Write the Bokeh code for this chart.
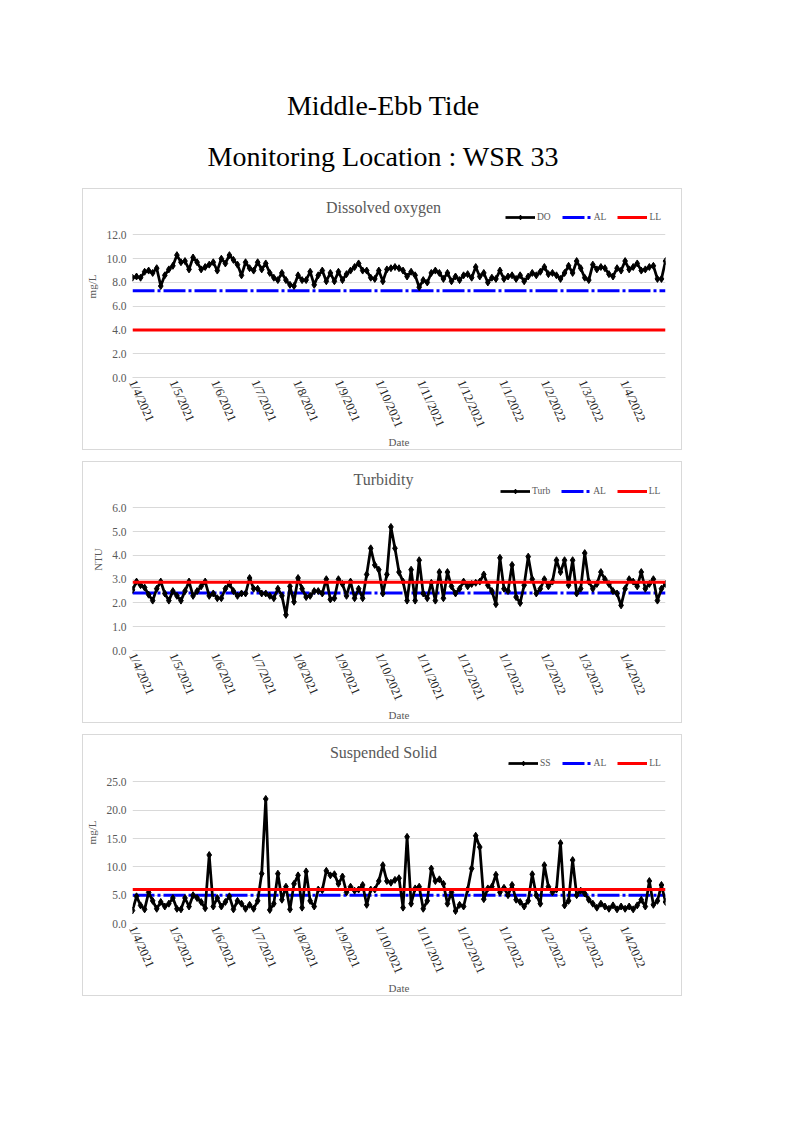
import pandas as pd
from bokeh.plotting import figure
from bokeh.models import (Range1d, FixedTicker, NumeralTickFormatter, Legend, LegendItem,
                          Label, Div, Spacer)
from bokeh.layouts import column, row
from bokeh.embed import file_html
from bokeh.resources import INLINE

# ---------------- data ----------------
dates = [
    "2021-04-01", "2021-04-04", "2021-04-07", "2021-04-10", "2021-04-13", "2021-04-16", "2021-04-19", "2021-04-22", "2021-04-25", "2021-04-28",
    "2021-05-01", "2021-05-04", "2021-05-07", "2021-05-10", "2021-05-13", "2021-05-16", "2021-05-19", "2021-05-22", "2021-05-25", "2021-05-28", "2021-05-31",
    "2021-06-03", "2021-06-06", "2021-06-09", "2021-06-12", "2021-06-15", "2021-06-18", "2021-06-21", "2021-06-24", "2021-06-27", "2021-06-30",
    "2021-07-03", "2021-07-06", "2021-07-09", "2021-07-12", "2021-07-15", "2021-07-18", "2021-07-21", "2021-07-24", "2021-07-27", "2021-07-30",
    "2021-08-02", "2021-08-05", "2021-08-08", "2021-08-11", "2021-08-14", "2021-08-17", "2021-08-20", "2021-08-23", "2021-08-26", "2021-08-29",
    "2021-09-01", "2021-09-04", "2021-09-07", "2021-09-10", "2021-09-13", "2021-09-16", "2021-09-19", "2021-09-22", "2021-09-25", "2021-09-28",
    "2021-10-01", "2021-10-04", "2021-10-07", "2021-10-10", "2021-10-13", "2021-10-16", "2021-10-19", "2021-10-22", "2021-10-25", "2021-10-28", "2021-10-31",
    "2021-11-03", "2021-11-06", "2021-11-09", "2021-11-12", "2021-11-15", "2021-11-18", "2021-11-21", "2021-11-24", "2021-11-27", "2021-11-30",
    "2021-12-03", "2021-12-06", "2021-12-09", "2021-12-12", "2021-12-15", "2021-12-18", "2021-12-21", "2021-12-24", "2021-12-27", "2021-12-30",
    "2022-01-02", "2022-01-05", "2022-01-08", "2022-01-11", "2022-01-14", "2022-01-17", "2022-01-20", "2022-01-23", "2022-01-26", "2022-01-29",
    "2022-02-01", "2022-02-04", "2022-02-07", "2022-02-10", "2022-02-13", "2022-02-16", "2022-02-19", "2022-02-22", "2022-02-25", "2022-02-28",
    "2022-03-03", "2022-03-06", "2022-03-09", "2022-03-12", "2022-03-15", "2022-03-18", "2022-03-21", "2022-03-24", "2022-03-27", "2022-03-30",
    "2022-04-02", "2022-04-05", "2022-04-08", "2022-04-11", "2022-04-14", "2022-04-17", "2022-04-20", "2022-04-23", "2022-04-26", "2022-04-29",
    "2022-05-02",
]

do_vals = [
    8.4, 8.5, 8.4, 8.9, 9.0, 8.8, 9.2, 7.7, 8.6, 9.1,
    9.4, 10.3, 9.7, 9.8, 9.1, 10.1, 9.7, 9.1, 9.3, 9.5,
    9.7, 9.0, 10.0, 9.6, 10.3, 9.9, 9.5, 8.6, 9.7, 9.2,
    9.0, 9.7, 9.1, 9.6, 8.8, 8.4, 8.2, 8.8, 8.2, 7.8,
    7.7, 8.6, 8.2, 8.2, 8.9, 7.8, 8.6, 9.0, 8.1, 8.8,
    8.1, 8.9, 8.2, 8.7, 9.0, 9.3, 9.6, 9.0, 9.0, 8.4,
    8.3, 9.0, 8.1, 9.1, 9.2, 9.3, 9.2, 9.0, 8.5, 8.9,
    8.6, 7.6, 8.2, 8.0, 8.8, 9.0, 8.8, 8.3, 8.8, 8.1,
    8.5, 8.2, 8.6, 8.7, 8.4, 9.3, 8.5, 8.8, 8.0, 8.4,
    8.3, 9.0, 8.3, 8.5, 8.6, 8.3, 8.6, 8.1, 8.5, 8.8,
    8.6, 8.9, 9.3, 8.7, 8.8, 8.6, 8.3, 8.8, 9.4, 8.8,
    9.8, 9.2, 8.4, 8.2, 9.5, 9.1, 9.3, 9.2, 8.7, 8.5,
    9.2, 9.0, 9.8, 9.1, 9.3, 9.6, 9.0, 9.1, 9.3, 9.4,
    8.3, 8.3, 9.8,
]

turb_vals = [
    2.55, 2.9, 2.75, 2.65, 2.35, 2.1, 2.6, 2.9, 2.4, 2.1,
    2.5, 2.3, 2.1, 2.5, 2.9, 2.3, 2.5, 2.7, 2.9, 2.3,
    2.4, 2.2, 2.2, 2.6, 2.8, 2.5, 2.3, 2.4, 2.4, 3.05,
    2.6, 2.6, 2.4, 2.4, 2.3, 2.2, 2.6, 2.3, 1.5, 2.7,
    2.05, 3.05, 2.6, 2.25, 2.3, 2.5, 2.5, 2.4, 3.0, 2.15,
    2.2, 3.0, 2.8, 2.3, 2.9, 2.2, 2.6, 2.2, 3.2, 4.3,
    3.6, 3.4, 2.4, 3.2, 5.2, 4.3, 3.3, 2.9, 2.1, 3.4,
    2.1, 3.8, 2.4, 2.2, 2.85, 2.1, 3.3, 2.2, 3.3, 2.7,
    2.4, 2.6, 2.9, 2.7, 2.8, 2.85, 2.9, 3.2, 2.75, 2.5,
    1.95, 3.9, 2.6, 2.5, 3.6, 2.25, 2.0, 2.75, 3.95, 3.0,
    2.4, 2.6, 3.0, 2.7, 2.9, 3.8, 3.3, 3.8, 2.75, 3.8,
    2.4, 2.6, 4.1, 2.9, 2.6, 2.8, 3.3, 3.0, 2.8, 2.5,
    2.4, 1.9, 2.6, 3.0, 2.9, 2.7, 3.3, 2.6, 2.8, 3.0,
    2.1, 2.6, 2.8,
]

ss_vals = [
    2.3, 4.8, 3.2, 2.5, 5.5, 4.0, 2.6, 3.8, 3.0, 3.5,
    4.5, 2.6, 2.5, 4.5, 3.0, 5.0, 4.5, 3.8, 2.7, 12.1,
    3.0, 4.5, 3.0, 3.8, 4.8, 2.5, 4.0, 3.5, 2.6, 3.3,
    2.6, 4.0, 8.8, 22.0, 2.4, 3.5, 8.8, 4.2, 6.5, 2.5,
    7.0, 8.5, 2.8, 9.2, 4.0, 3.0, 6.0, 5.9, 9.3, 8.5,
    8.7, 7.0, 8.3, 5.5, 6.5, 5.8, 6.0, 6.8, 3.3, 6.0,
    6.0, 7.5, 10.3, 7.5, 7.2, 7.7, 8.0, 2.8, 15.3, 3.5,
    6.2, 6.5, 2.6, 4.0, 9.7, 7.5, 7.8, 7.0, 3.5, 5.5,
    2.2, 3.3, 3.0, 6.0, 9.7, 15.5, 13.5, 4.3, 6.2, 6.5,
    8.6, 5.5, 6.3, 5.0, 6.8, 4.2, 3.8, 3.0, 4.0, 8.7,
    5.0, 3.5, 10.3, 6.5, 5.5, 6.0, 14.2, 3.2, 4.0, 11.2,
    5.0, 5.8, 5.3, 4.2, 3.5, 2.8, 3.5, 3.0, 2.6, 3.2,
    2.5, 3.0, 2.6, 3.0, 2.5, 3.2, 4.2, 3.0, 7.5, 3.3,
    4.0, 6.8, 3.8,
]

# action level (AL) and limit level (LL)
do_al, do_ll = 7.3, 4.0
turb_al, turb_ll = 2.42, 2.87
ss_al, ss_ll = 5.0, 6.0

tick_dates = ["2021-04-01", "2021-05-01", "2021-06-01", "2021-07-01", "2021-08-01", "2021-09-01",
              "2021-10-01", "2021-11-01", "2021-12-01", "2022-01-01", "2022-02-01", "2022-03-01",
              "2022-04-01"]
tick_labels = ["1/4/2021", "1/5/2021", "1/6/2021", "1/7/2021", "1/8/2021", "1/9/2021",
               "1/10/2021", "1/11/2021", "1/12/2021", "1/1/2022", "1/2/2022", "1/3/2022",
               "1/4/2022"]

page_title = "Middle-Ebb Tide"
page_subtitle = "Monitoring Location : WSR 33"

# ---------------- style ----------------
FONT = "Liberation Serif"
GRAY = "#595959"
GRID = "#d9d9d9"
FRAME_W = 531
FRAME_H = 180


def make_chart(title, ylabel, name, vals, al, ll, y_ticks, plot_px, bottom_b, leg_x, leg_y, title_dy):
    xs = pd.to_datetime(dates)
    extra_px = FRAME_H - plot_px          # room above the top gridline for title + legend
    y_top = y_ticks[-1] * (1 + extra_px / plot_px)
    p = figure(frame_width=FRAME_W, frame_height=FRAME_H, x_axis_type="datetime",
               x_range=Range1d(xs[0], xs[-1]), y_range=Range1d(y_ticks[0], y_top),
               min_border_left=49, min_border_right=18, min_border_top=6,
               min_border_bottom=bottom_b, output_backend="svg", toolbar_location=None)
    p.styles = {"border": "1px solid #d9d9d9"}
    p.outline_line_color = None
    p.background_fill_color = "white"
    p.border_fill_color = "white"

    # x axis
    tick_ms = [pd.Timestamp(d).value // 10**6 for d in tick_dates]
    xa = p.xaxis[0]
    xa.ticker = FixedTicker(ticks=tick_ms)
    xa.major_label_overrides = {float(t): lab for t, lab in zip(tick_ms, tick_labels)}
    xa.major_label_orientation = -1.15
    xa.major_tick_line_color = None
    xa.minor_tick_line_color = None
    xa.major_tick_out = 0
    xa.minor_tick_out = 0
    xa.axis_line_color = GRID
    xa.major_label_text_font = FONT
    xa.major_label_text_font_size = "12.5px"
    xa.major_label_text_color = "#262626"
    xa.major_label_standoff = 3
    xa.axis_label = "Date"
    xa.axis_label_text_font = FONT
    xa.axis_label_text_font_size = "11px"
    xa.axis_label_text_font_style = "normal"
    xa.axis_label_text_color = GRAY
    xa.axis_label_standoff = 1

    # y axis
    ya = p.yaxis[0]
    ya.ticker = FixedTicker(ticks=y_ticks)
    ya.formatter = NumeralTickFormatter(format="0.0")
    ya.major_tick_line_color = None
    ya.minor_tick_line_color = None
    ya.major_tick_out = 0
    ya.minor_tick_out = 0
    ya.axis_line_color = None
    ya.major_label_text_font = FONT
    ya.major_label_text_font_size = "11.5px"
    ya.major_label_text_color = GRAY
    ya.major_label_standoff = 6
    ya.axis_label = ylabel
    ya.axis_label_text_font = FONT
    ya.axis_label_text_font_size = "11px"
    ya.axis_label_text_font_style = "normal"
    ya.axis_label_text_color = GRAY
    ya.axis_label_standoff = 5

    p.xgrid.grid_line_color = None
    p.ygrid.grid_line_color = GRID
    p.ygrid.ticker = FixedTicker(ticks=y_ticks)

    ends = [xs[0], xs[-1]]
    r_al = p.line(ends, [al, al], line_color="#0000ff", line_width=3, line_dash="22 3 3 3")
    r_line = p.line(xs, vals, line_color="black", line_width=2.75)
    r_pts = p.scatter(xs, vals, marker="diamond", size=7, fill_color="black", line_color="black")
    r_ll = p.line(ends, [ll, ll], line_color="#ff0000", line_width=3)

    legend = Legend(items=[LegendItem(label=name, renderers=[r_line, r_pts]),
                           LegendItem(label="AL", renderers=[r_al]),
                           LegendItem(label="LL", renderers=[r_ll])],
                    orientation="horizontal", location=(leg_x, leg_y),
                    glyph_width=30, glyph_height=12, label_height=12, label_width=0,
                    label_standoff=2, spacing=11, padding=0, margin=0,
                    border_line_color=None, background_fill_alpha=0, label_text_font=FONT,
                    label_text_font_size="9.5px", label_text_color=GRAY)
    p.add_layout(legend, "center")

    p.add_layout(Label(x=251, y=FRAME_H - title_dy, x_units="screen", y_units="screen",
                       text=title, text_align="center", text_baseline="middle",
                       text_font=FONT, text_font_size="16px", text_color=GRAY))
    return p


p1 = make_chart("Dissolved oxygen", "mg/L", "DO", do_vals, do_al, do_ll,
                [0, 2, 4, 6, 8, 10, 12], 141, 72, 373, 154, 10)
p2 = make_chart("Turbidity", "NTU", "Turb", turb_vals, turb_al, turb_ll,
                [0, 1, 2, 3, 4, 5, 6], 141, 74, 368, 153, 9)
p3 = make_chart("Suspended Solid", "mg/L", "SS", ss_vals, ss_al, ss_ll,
                [0, 5, 10, 15, 20, 25], 140, 74, 376, 154, 9)

header = Div(
    text=(
        '<div style="position:relative;width:600px;height:178px;font-family:\'Liberation Serif\';color:#000;">'
        '<div style="position:absolute;top:86px;left:-4px;width:600px;text-align:center;'
        'font-size:28px;line-height:30px;">' + page_title + '</div>'
        '<div style="position:absolute;top:136px;left:-4px;width:600px;text-align:center;'
        'font-size:28px;line-height:32px;">' + page_subtitle + '</div></div>'
    ),
    width=600, height=178,
)

layout = row(Spacer(width=82),
             column(header, p1, Spacer(height=11), p2, Spacer(height=11), p3))

open("out.html", "w").write(file_html(layout, INLINE))
